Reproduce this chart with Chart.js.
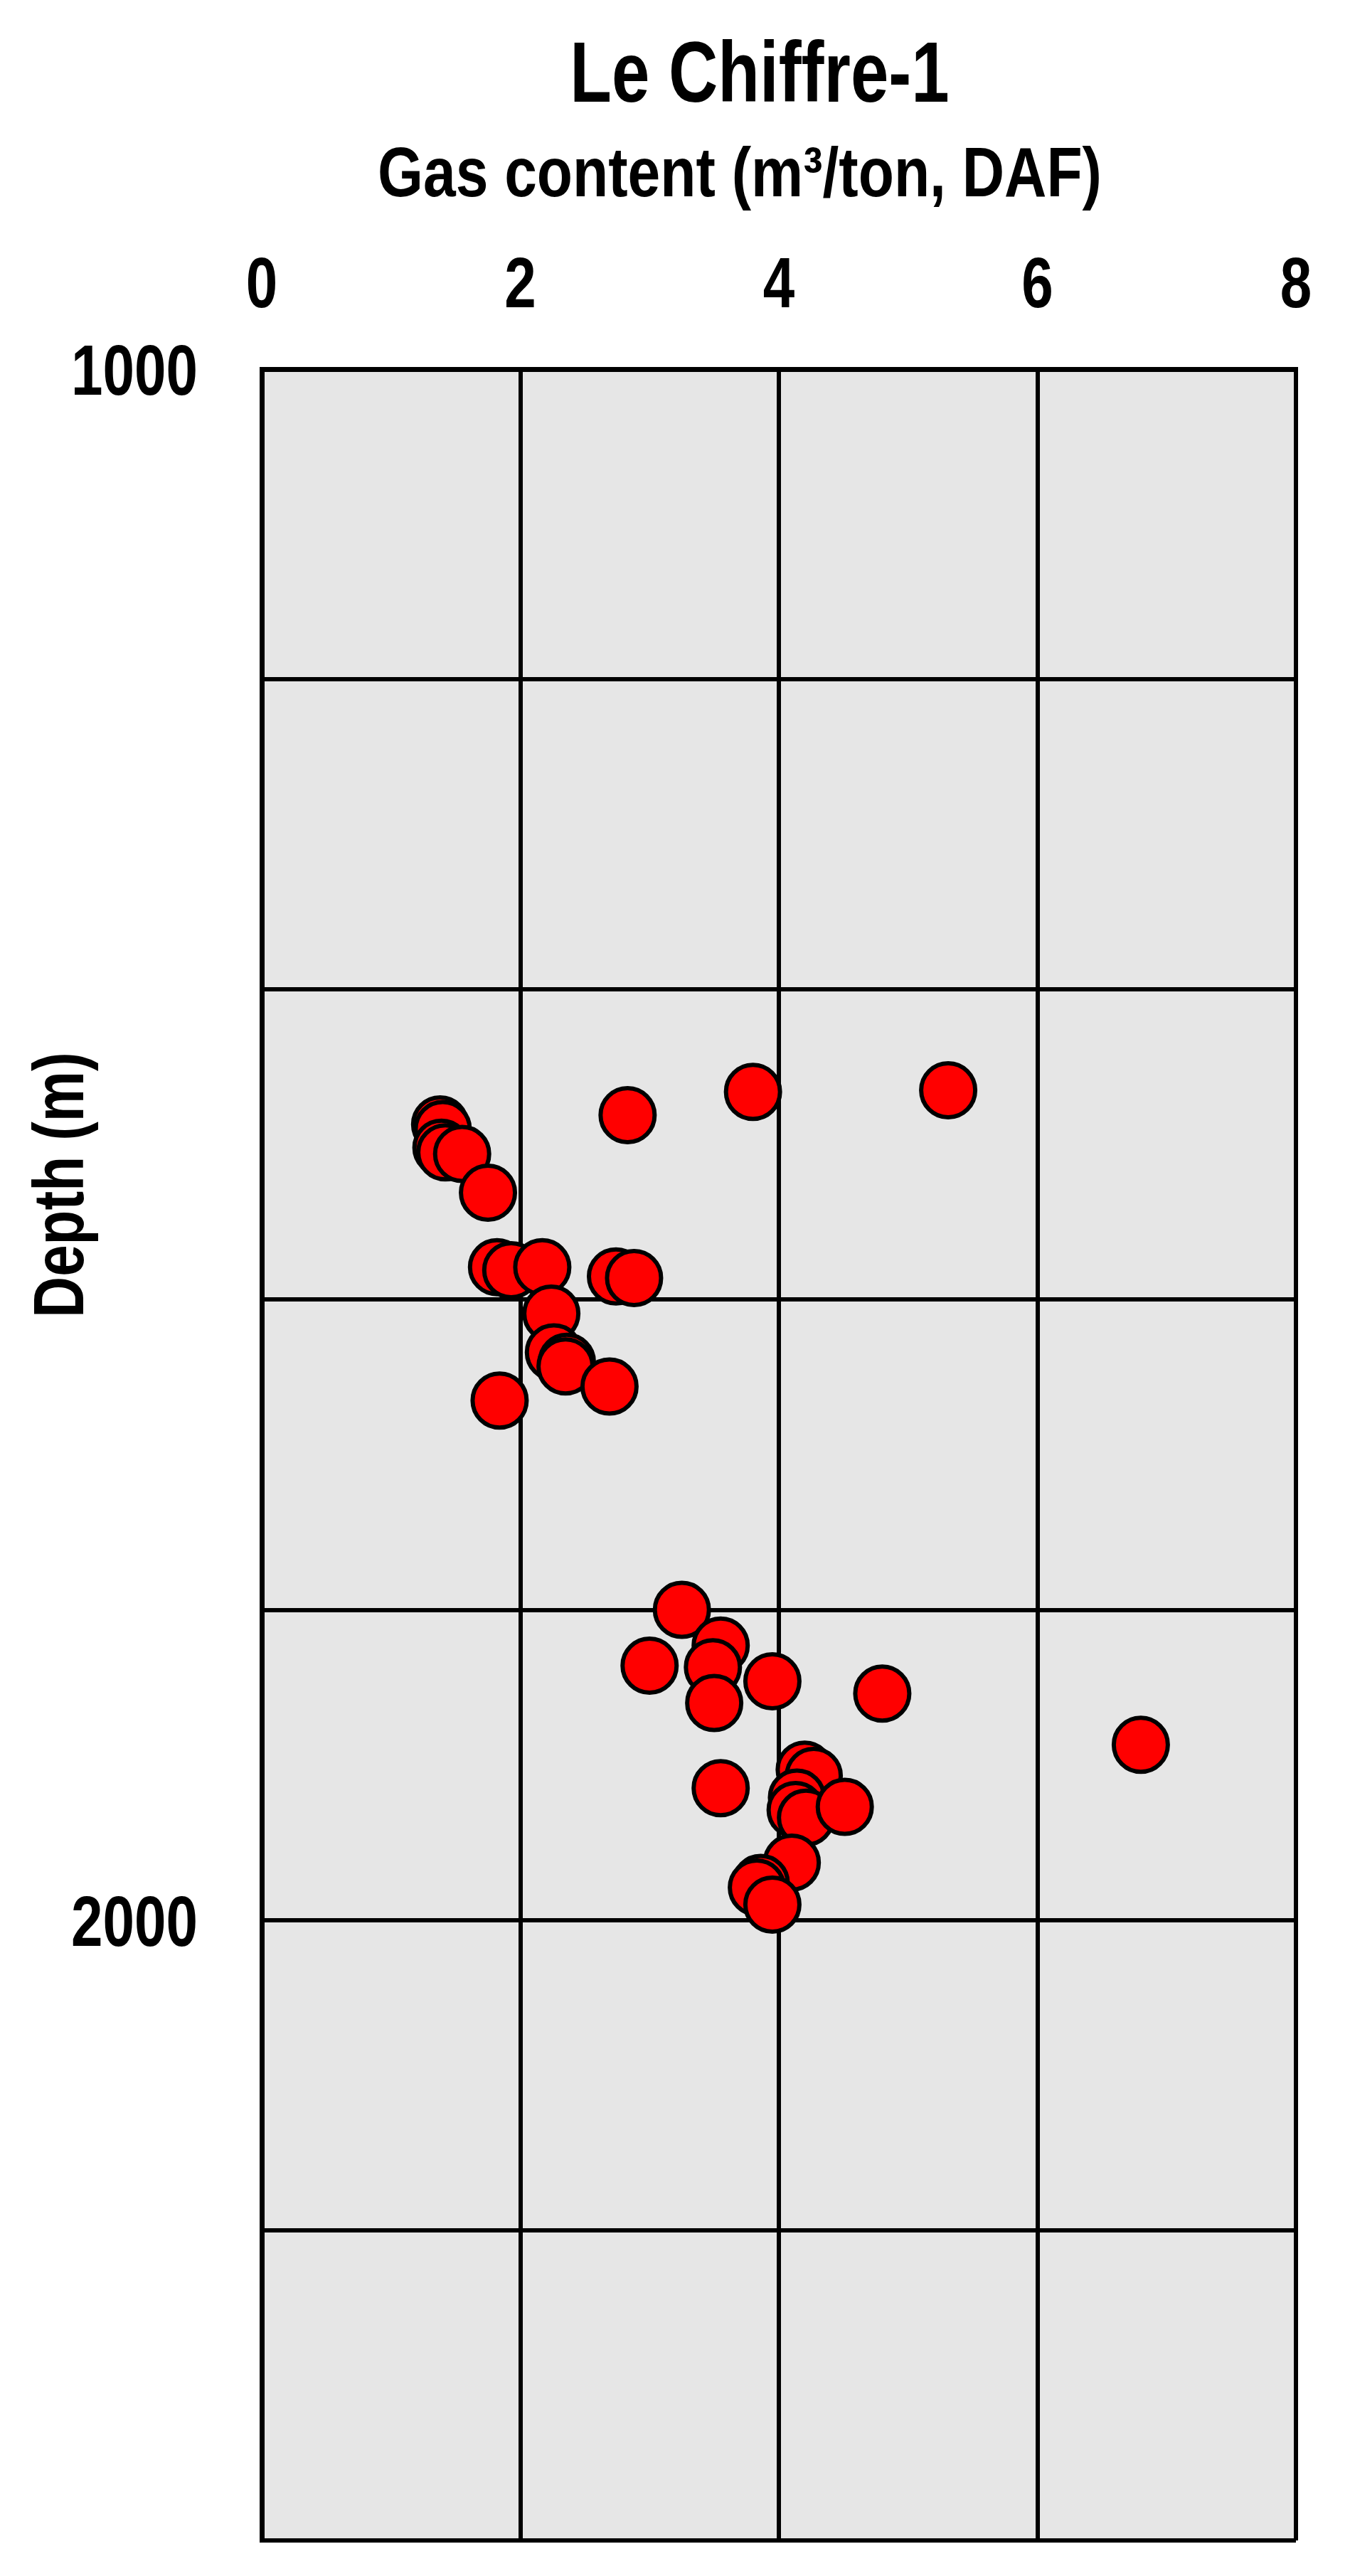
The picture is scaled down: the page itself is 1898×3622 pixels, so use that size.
<!DOCTYPE html>
<html>
<head>
<meta charset="utf-8">
<title>Le Chiffre-1</title>
<script src="https://cdn.jsdelivr.net/npm/chart.js@4.4.1/dist/chart.umd.min.js"></script>
<style>
    html, body { margin: 0; padding: 0; background: #ffffff; overflow: hidden; }
    canvas { display: block; }
</style>
</head>
<body>
<canvas id="gasChart" width="1898" height="3622"></canvas>
<script>
// Chart data
const chartTitle = 'Le Chiffre-1';
const xAxisTitle = 'Gas content (m\u00B3/ton, DAF)';
const yAxisTitle = 'Depth (m)';

const gasContent = [
    1.38, 1.40, 1.39, 1.42, 1.55, 1.75, 2.83, 3.80, 5.31,
    1.82, 1.93, 2.17, 2.74, 2.88, 2.24, 2.26, 2.36, 2.35, 2.69, 1.84,
    3.25, 3.55, 3.00, 3.49, 3.50, 3.95, 4.80, 6.80, 3.55,
    4.20, 4.27, 4.14, 4.13, 4.21, 4.51, 4.10, 3.86, 3.83, 3.95
];
const depth = [
    1487, 1490, 1502, 1505, 1506, 1531, 1481, 1466, 1465,
    1579, 1581, 1579, 1585, 1586, 1609, 1634, 1640, 1643, 1656, 1665,
    1800, 1823, 1836, 1837, 1860, 1846, 1854, 1887, 1915,
    1903, 1907, 1921, 1929, 1934, 1927, 1963, 1976, 1979, 1990
];

const xTicks = [0, 2, 4, 6, 8];
const depthLabels = [1000, 2000];

// no narrow font installed, so text is squeezed sideways to look like Arial Narrow
const fontFamily = "'Liberation Sans', Arial, sans-serif";

function narrowText(ctx, text, x, y, size, align, squeeze = 0.8) {
    ctx.save();
    ctx.font = 'bold ' + size + 'px ' + fontFamily;
    ctx.textAlign = align;
    ctx.textBaseline = 'alphabetic';
    ctx.translate(x, y);
    ctx.scale(squeeze, 1);
    ctx.fillText(text, 0, 0);
    ctx.restore();
}

// Grey plot background, tick labels and titles
const framePlugin = {
    id: 'frame',
    beforeDraw(chart) {
        const { ctx, chartArea } = chart;
        ctx.save();
        ctx.fillStyle = '#e6e6e6';
        ctx.fillRect(chartArea.left, chartArea.top, chartArea.right - chartArea.left, chartArea.bottom - chartArea.top);
        ctx.restore();
    },
    afterDraw(chart) {
        const { ctx, scales } = chart;
        ctx.fillStyle = '#000000';

        // x tick labels along the top
        scales.x.ticks.forEach(t => {
            narrowText(ctx, String(t.value), scales.x.getPixelForValue(t.value), 432, 100, 'center');
        });

        // depth labels, only at whole thousands
        depthLabels.forEach(v => {
            narrowText(ctx, String(v), 278, scales.y.getPixelForValue(v) + 36, 100, 'right');
        });

        narrowText(ctx, chartTitle, 1068, 143, 120, 'center');
        narrowText(ctx, xAxisTitle, 1040, 276, 99, 'center', 0.83);

        // vertical depth label
        ctx.save();
        ctx.translate(117, 1666);
        ctx.rotate(-Math.PI / 2);
        narrowText(ctx, yAxisTitle, 0, 0, 100, 'center');
        ctx.restore();
    }
};

const points = gasContent.map((g, i) => ({ x: g, y: depth[i] }));

new Chart(document.getElementById('gasChart').getContext('2d'), {
    type: 'scatter',
    data: {
        datasets: [{
            label: 'Gas content',
            data: points,
            pointRadius: 38,
            pointHoverRadius: 38,
            pointBackgroundColor: '#ff0000',
            pointBorderColor: '#000000',
            pointBorderWidth: 6
        }]
    },
    options: {
        responsive: false,
        animation: false,
        events: [],
        layout: { padding: { top: 0, left: 0, right: 76, bottom: 50 } },
        plugins: {
            legend: { display: false },
            tooltip: { enabled: false }
        },
        scales: {
            x: {
                type: 'linear',
                position: 'top',
                min: 0,
                max: 8,
                afterFit: (scale) => { scale.height = 519; },
                afterBuildTicks: (scale) => { scale.ticks = xTicks.map(v => ({ value: v })); },
                grid: { color: '#000000', lineWidth: 6, drawTicks: false },
                border: { display: true, color: '#000000', width: 7 },
                ticks: { display: false }
            },
            y: {
                type: 'linear',
                reverse: true,
                min: 1000,
                max: 2400,
                afterFit: (scale) => { scale.width = 368; },
                grid: { color: '#000000', lineWidth: 6, drawTicks: false },
                border: { display: true, color: '#000000', width: 7 },
                ticks: { display: false, stepSize: 200 }
            }
        }
    },
    plugins: [framePlugin]
});
</script>
</body>
</html>
